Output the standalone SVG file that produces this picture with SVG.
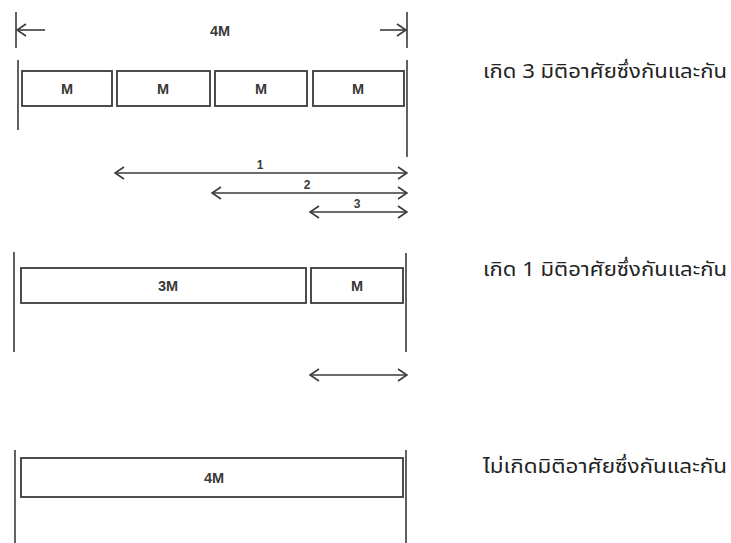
<svg xmlns="http://www.w3.org/2000/svg" width="731" height="543" viewBox="0 0 731 543">
<defs>
<style>
.ln{stroke:#3a3a3a;stroke-width:1.6;fill:none}
.bx{stroke:#3a3a3a;stroke-width:1.8;fill:#fff}
.lb{font-family:"Liberation Sans",Arial,sans-serif;font-size:14.5px;font-weight:bold;fill:#3a3a3a;text-anchor:middle}
.nm{font-family:"Liberation Sans",Arial,sans-serif;font-size:12px;font-weight:bold;fill:#3a3a3a;text-anchor:middle}
.th{font-family:"Noto Sans Thai","Noto Sans","DejaVu Sans",sans-serif;font-size:19px;fill:#222}
</style>
<marker id="ah" viewBox="0 0 12 14" refX="11" refY="7" markerWidth="12" markerHeight="14" markerUnits="userSpaceOnUse" orient="auto-start-reverse">
<path d="M2,1 L11,7 L2,13" fill="none" stroke="#3a3a3a" stroke-width="1.6"/>
</marker>
</defs>
<rect width="731" height="543" fill="#fff"/>
<g id="connectors">
<line class="ln" x1="16" y1="12" x2="16" y2="48"/>
<line class="ln" x1="407" y1="12" x2="407" y2="48"/>
<line class="ln" x1="17" y1="30" x2="45" y2="30" marker-start="url(#ah)"/>
<line class="ln" x1="380" y1="30" x2="406" y2="30" marker-end="url(#ah)"/>
<line class="ln" x1="18" y1="60" x2="18" y2="130"/>
<line class="ln" x1="407" y1="60" x2="407" y2="157"/>
<line class="ln" x1="115" y1="173" x2="407" y2="173" marker-start="url(#ah)" marker-end="url(#ah)"/>
<line class="ln" x1="212" y1="193" x2="407" y2="193" marker-start="url(#ah)" marker-end="url(#ah)"/>
<line class="ln" x1="310" y1="212" x2="407" y2="212" marker-start="url(#ah)" marker-end="url(#ah)"/>
<line class="ln" x1="14" y1="252" x2="14" y2="352"/>
<line class="ln" x1="406" y1="253" x2="406" y2="352"/>
<line class="ln" x1="310" y1="375" x2="407" y2="375" marker-start="url(#ah)" marker-end="url(#ah)"/>
<line class="ln" x1="15" y1="450" x2="15" y2="543"/>
<line class="ln" x1="406" y1="450" x2="406" y2="543"/>
</g>
<g id="label-4M-top"><text class="lb" x="220" y="36">4M</text></g>
<g id="arrow-labels">
<text class="nm" x="260" y="169">1</text>
<text class="nm" x="307" y="189">2</text>
<text class="nm" x="357" y="208">3</text>
</g>
<g id="m1"><rect class="bx" x="22" y="71" width="90" height="35"/><text class="lb" x="67" y="94">M</text></g>
<g id="m2"><rect class="bx" x="117" y="71" width="93" height="35"/><text class="lb" x="163" y="94">M</text></g>
<g id="m3"><rect class="bx" x="215" y="71" width="92" height="35"/><text class="lb" x="261" y="94">M</text></g>
<g id="m4"><rect class="bx" x="313" y="71" width="91" height="35"/><text class="lb" x="358" y="94">M</text></g>
<g id="b3m"><rect class="bx" x="21" y="268" width="285" height="35"/><text class="lb" x="168" y="291">3M</text></g>
<g id="bm"><rect class="bx" x="311" y="268" width="92" height="35"/><text class="lb" x="357" y="291">M</text></g>
<g id="b4m"><rect class="bx" x="21" y="458" width="382" height="39"/><text class="lb" x="214" y="483">4M</text></g>
<g id="txt1"><text class="th" x="483" y="78" textLength="244" lengthAdjust="spacingAndGlyphs">เกิด 3 มิติอาศัยซึ่งกันและกัน</text></g>
<g id="txt2"><text class="th" x="483" y="276" textLength="244" lengthAdjust="spacingAndGlyphs">เกิด 1 มิติอาศัยซึ่งกันและกัน</text></g>
<g id="txt3"><text class="th" x="483" y="473" textLength="244" lengthAdjust="spacingAndGlyphs">ไม่เกิดมิติอาศัยซึ่งกันและกัน</text></g>
</svg>
